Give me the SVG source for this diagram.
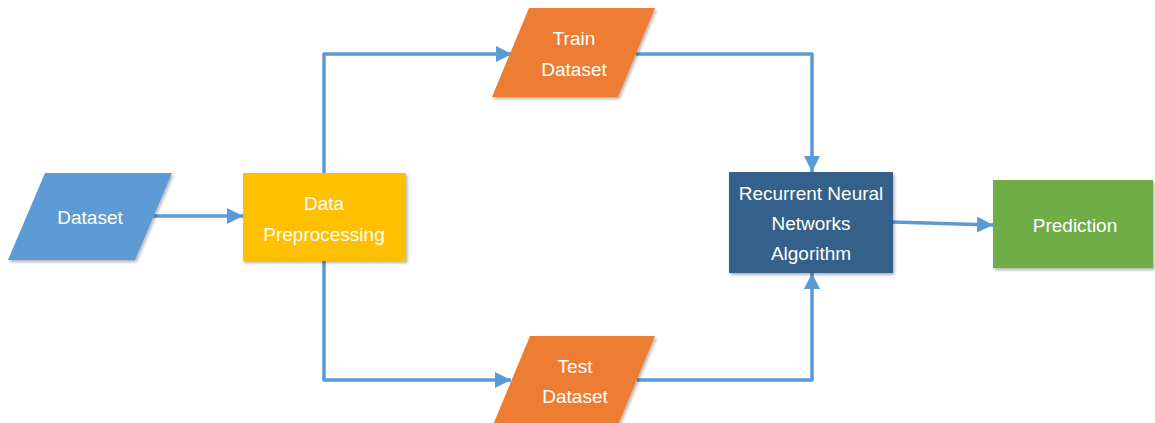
<svg xmlns="http://www.w3.org/2000/svg" width="1155" height="423" viewBox="0 0 1155 423">
  <style>
    .lbl { font-family: "Liberation Sans", Arial, sans-serif; font-size: 19px; fill: #ffffff; text-anchor: middle; }
    .wire { fill: none; stroke: #5B9BD5; stroke-width: 3.5; stroke-linejoin: round; }
    .shape { filter: url(#shadow); }
  </style>
  <defs>
    <filter id="shadow" x="-10%" y="-10%" width="125%" height="130%">
      <feDropShadow dx="1.5" dy="2" stdDeviation="1.8" flood-color="#000000" flood-opacity="0.3"/>
    </filter>
    <marker id="arrow" markerUnits="userSpaceOnUse" markerWidth="16" markerHeight="16" viewBox="0 0 16 16" refX="16" refY="8" orient="auto">
      <path d="M0,0 L16,8 L0,16 Z" fill="#5B9BD5"/>
    </marker>
  </defs>

  <rect width="1155" height="423" fill="#ffffff"/>

  <!-- connectors -->
  <g id="connectors">
    <line class="wire" x1="153" y1="216" x2="243" y2="216" marker-end="url(#arrow)"/>
    <polyline class="wire" points="324,173 324,54 512,54" marker-end="url(#arrow)"/>
    <polyline class="wire" points="324,261 324,380 511,380" marker-end="url(#arrow)"/>
    <polyline class="wire" points="636,54 812,54 812,172" marker-end="url(#arrow)"/>
    <polyline class="wire" points="637,380 812,380 812,273" marker-end="url(#arrow)"/>
    <line class="wire" x1="893" y1="222" x2="993" y2="225" marker-end="url(#arrow)"/>
  </g>

  <!-- input dataset -->
  <g id="dataset">
    <polygon class="shape" points="45,173 172,173 135,260 8,260" fill="#5B9BD5"/>
    <text class="lbl" x="90" y="224">Dataset</text>
  </g>

  <!-- preprocessing step -->
  <g id="preprocessing">
    <rect class="shape" x="243" y="173" width="163" height="88" fill="#FFC000"/>
    <text class="lbl" x="324" y="210">Data</text>
    <text class="lbl" x="324" y="241">Preprocessing</text>
  </g>

  <!-- training split -->
  <g id="train-dataset">
    <polygon class="shape" points="529,8 655,8 618,97 492,97" fill="#ED7D31"/>
    <text class="lbl" x="574" y="45">Train</text>
    <text class="lbl" x="574" y="76">Dataset</text>
  </g>

  <!-- test split -->
  <g id="test-dataset">
    <polygon class="shape" points="530,336 655,336 618,425 493,425" fill="#ED7D31"/>
    <text class="lbl" x="575" y="373">Test</text>
    <text class="lbl" x="575" y="403">Dataset</text>
  </g>

  <!-- model -->
  <g id="rnn">
    <rect class="shape" x="729" y="172" width="164" height="101" fill="#366089"/>
    <text class="lbl" x="811" y="200">Recurrent Neural</text>
    <text class="lbl" x="811" y="230">Networks</text>
    <text class="lbl" x="811" y="260">Algorithm</text>
  </g>

  <!-- output -->
  <g id="prediction">
    <rect class="shape" x="993" y="180" width="160" height="88" fill="#70AD47"/>
    <text class="lbl" x="1075" y="232">Prediction</text>
  </g>
</svg>
